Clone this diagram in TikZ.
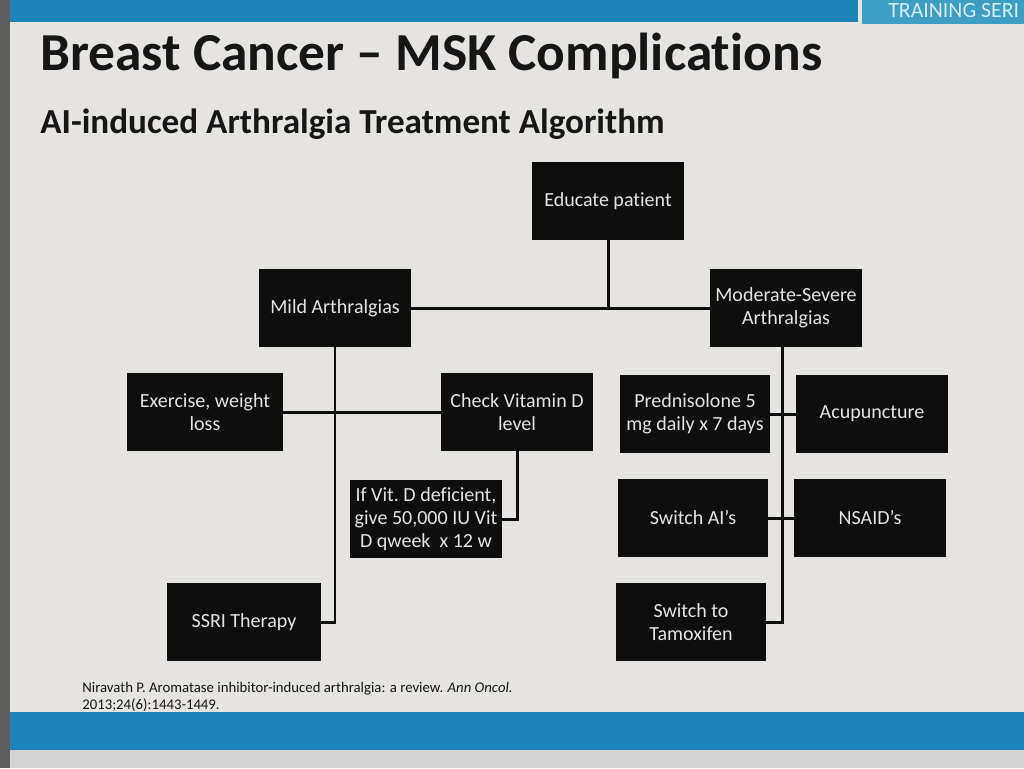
\documentclass[tikz,border=0pt]{standalone}
\usepackage{fontspec}
\setmainfont{Carlito}[Ligatures=NoCommon]

\definecolor{slidebg}{HTML}{E6E4E1}
\definecolor{edgegray}{HTML}{5E5E5E}
\definecolor{barblue}{HTML}{1C84B8}
\definecolor{barteal}{HTML}{3C9EC2}
\definecolor{boxblack}{HTML}{0E0E0E}
\definecolor{boxtext}{HTML}{E4E4E4}
\definecolor{titleblack}{HTML}{161616}
\definecolor{footgray}{HTML}{D4D4D4}

\begin{document}
\begin{tikzpicture}[x=0.02cm, y=-0.02cm, line cap=rect, line join=miter,
  stepbox/.style={fill=boxblack, text=boxtext, align=center,
    minimum width=3.06cm, minimum height=1.56cm, inner sep=1pt,
    font=\fontsize{11.4pt}{13pt}\selectfont},
  link/.style={draw=boxblack, line width=1.7pt}]

% ----------------------------
% SLIDE FRAME (pixel units, y downwards)
% ----------------------------
\useasboundingbox (0,0) rectangle (1024,768);
\fill[slidebg] (0,0) rectangle (1024,768);
\fill[edgegray] (0,0) rectangle (10,768);   % photo edge

% top bars
\fill[barblue] (10,0) rectangle (858,22);
\fill[barteal] (862,0) rectangle (1024,24);
\node[anchor=base west, inner sep=0pt, text=white!80!barteal,
      font=\fontsize{12.4pt}{14pt}\selectfont] (series) at (888,17) {TRAINING SERI};

% bottom bar
\fill[barblue] (10,712) rectangle (1024,750);
\fill[footgray] (10,750) rectangle (1024,768);

% ----------------------------
% TITLES
% ----------------------------
\node[anchor=base west, inner sep=0pt, text=titleblack,
      font=\bfseries\fontsize{30.4pt}{34pt}\selectfont] (title) at (40,70)
  {Breast Cancer – MSK Complications};
\node[anchor=base west, inner sep=0pt, text=titleblack,
      font=\bfseries\fontsize{20pt}{22pt}\selectfont] (subtitle) at (40,133)
  {AI-induced Arthralgia Treatment Algorithm};

% ----------------------------
% BOXES
% ----------------------------
\node[stepbox] (educate)   at (608,201) {Educate patient};
\node[stepbox] (mild)      at (335,308) {Mild Arthralgias};
\node[stepbox] (moderate)  at (786,308) {Moderate-Severe\\Arthralgias};

\node[stepbox, minimum width=3.14cm] (exercise) at (205,412) {Exercise, weight\\loss};
\node[stepbox] (checkd)    at (517,412) {Check Vitamin D\\level};
\node[stepbox] (vitd)      at (426,519) {If Vit.\ D deficient,\\give 50,000 IU Vit\\D qweek\ \ x 12 w};
\node[stepbox, minimum width=3.1cm] (ssri) at (244,622) {SSRI Therapy};

\node[stepbox, minimum width=3.0cm] (pred)      at (695,414) {Prednisolone 5\\mg daily x 7 days};
\node[stepbox] (acup)      at (872,414) {Acupuncture};
\node[stepbox, minimum width=3.0cm] (switchai)  at (693,518) {Switch AI's};
\node[stepbox] (nsaid)     at (870,518) {NSAID's};
\node[stepbox, minimum width=3.0cm] (tamoxifen) at (691,622) {Switch to\\Tamoxifen};

% ----------------------------
% CONNECTORS
% ----------------------------
\coordinate (split) at (educate.south |- mild.east);
\draw[link] (educate.south) -- (split);
\draw[link] (mild.east) -- (moderate.west);

% mild branch
\draw[link] (mild.south) |- (ssri.east);
\draw[link] (exercise.east) -- (checkd.west);
\draw[link] (checkd.south) |- (vitd.east);

% moderate-severe branch
\coordinate (trunk) at ([xshift=-0.08cm]moderate.south);
\draw[link] (trunk) |- (tamoxifen.east);
\draw[link] (pred.east) -- (acup.west);
\draw[link] (switchai.east) -- (nsaid.west);

% ----------------------------
% REFERENCE
% ----------------------------
\node[anchor=base west, inner sep=0pt, align=left, text=titleblack,
      font=\fontsize{8.4pt}{9.2pt}\selectfont] (cite) at (82,709)
  {Niravath P. Aromatase inhibitor-induced arthralgia: a review. \textit{Ann Oncol.}\\
   2013;24(6):1443-1449.};

\end{tikzpicture}
\end{document}
